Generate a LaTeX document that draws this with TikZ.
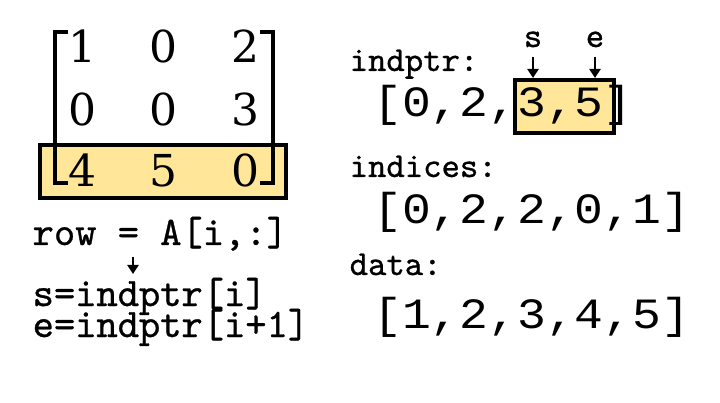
\documentclass[tikz,border=0pt]{standalone}
\usepackage{fontspec}
\newfontfamily\codefont{Liberation Mono}
\newfontfamily\courfont{lmmono10-regular}[Extension=.otf, FakeBold=0.8]
\newfontfamily\matfont{DejaVu Serif}
\usetikzlibrary{arrows.meta}
\definecolor{hl}{HTML}{FFE699}
\newcommand{\arrtext}[1]{\scalebox{1}[0.9]{#1}}
\begin{document}
\begin{tikzpicture}[x=1pt,y=-1pt,
  code/.style={font=\courfont\fontsize{40.5}{40.5}\selectfont, inner sep=0pt, anchor=base west},
  lab/.style={font=\courfont\fontsize{35}{35}\selectfont, inner sep=0pt, anchor=base west},
  arr/.style={font=\codefont\fontsize{48}{48}\selectfont, inner sep=0pt, anchor=base west},
  mat/.style={font=\matfont\fontsize{44}{44}\selectfont, inner sep=0pt, anchor=base},
  hlbox/.style={draw=black, fill=hl, line width=4pt, inner sep=0pt, outer sep=0pt, anchor=north west},
  brk/.style={line width=4pt, line join=miter},
  ptr/.style={line width=2.5pt, -{Triangle[length=9pt,width=11pt]}}]
\useasboundingbox (0,0) rectangle (720,403);

% ---- matrix ----
\node[hlbox, minimum width=246pt, minimum height=53pt] (rowbox) at (40,145) {};
\draw[brk] (68,32) -- (54.5,32) -- (54.5,183) -- (68,183);
\draw[brk] (260,32) -- (273,32) -- (273,183) -- (260,183);
\node[mat] (m11) at (82,63) {1};
\node[mat] (m12) at (163,63) {0};
\node[mat] (m13) at (245,63) {2};
\node[mat] (m21) at (82,126) {0};
\node[mat] (m22) at (163,126) {0};
\node[mat] (m23) at (245,126) {3};
\node[mat] (m31) at (82,187) {4};
\node[mat] (m32) at (163,187) {5};
\node[mat] (m33) at (245,187) {0};

% ---- left code ----
\node[code] (rowtxt) at (32.5,245) {row = A[i,:]};
\node[code] (stxt) at (32.5,306) {s=indptr[i]};
\node[code] (etxt) at (32.5,337) {e=indptr[i+1]};
\coordinate (ra) at (133,257);
\coordinate (rb) at (133,274);
\draw[ptr] (ra) -- (rb);

% ---- right arrays ----
\node[hlbox, minimum width=99pt, minimum height=53pt] (ptrbox) at (515,80) {};
\node[lab] (indptrlbl) at (349.5,71) {indptr:};
\node[arr] (indptrarr) at (373,117) {\arrtext{[0,2,3,5]}};
\node[lab, anchor=base] (slbl) at (533,47) {s};
\node[lab, anchor=base] (elbl) at (595,47) {e};
\draw[ptr, shorten <=10pt, shorten >=2pt] (slbl.south) -- (slbl.south |- ptrbox.north);
\draw[ptr, shorten <=10pt, shorten >=2pt] (elbl.south) -- (elbl.south |- ptrbox.north);

\node[lab] (indiceslbl) at (349.5,177) {indices:};
\node[arr] (indicesarr) at (373,224) {\arrtext{[0,2,2,0,1]}};
\node[lab] (datalbl) at (349.5,275) {data:};
\node[arr] (dataarr) at (373,328) {\arrtext{[1,2,3,4,5]}};
\end{tikzpicture}
\end{document}
